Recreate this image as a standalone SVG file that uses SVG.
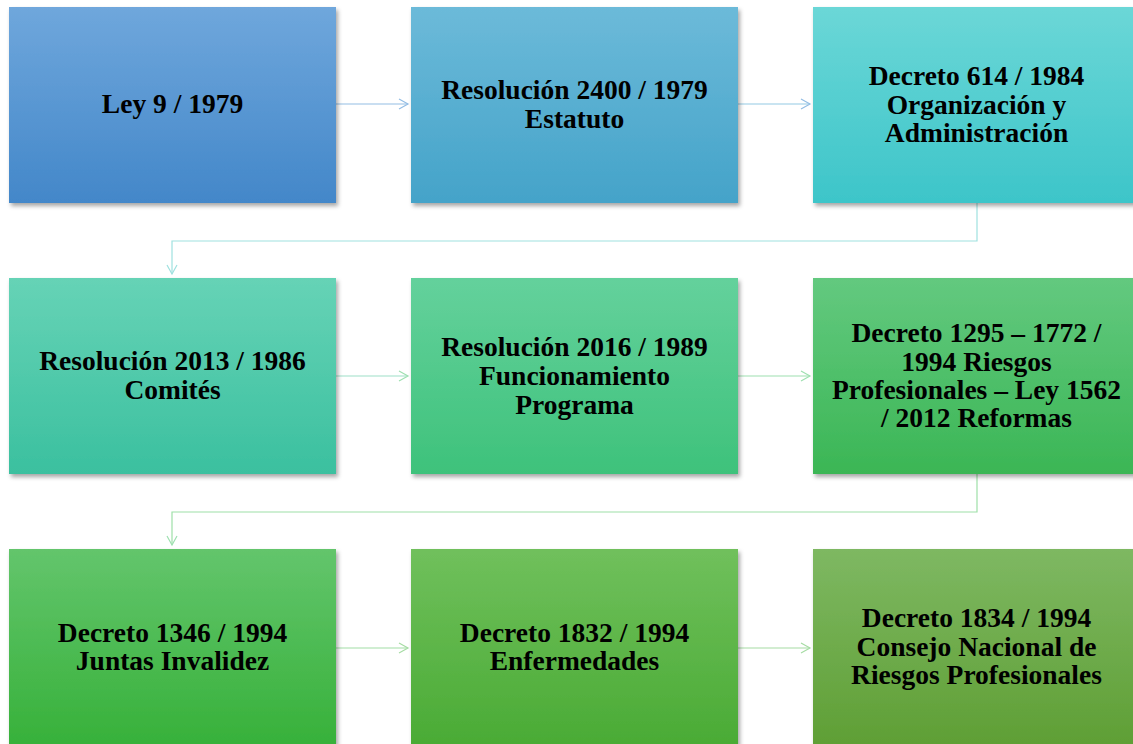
<svg xmlns="http://www.w3.org/2000/svg" width="1133" height="744" viewBox="0 0 1133 744">
<defs>
<filter id="sh" x="-5%" y="-5%" width="115%" height="115%">
<feDropShadow dx="2" dy="3" stdDeviation="2" flood-color="#000" flood-opacity="0.35"/>
</filter>
<linearGradient id="g1" x1="0" y1="0" x2="0" y2="1"><stop offset="0" stop-color="#6fa7dc"/><stop offset="1" stop-color="#4387c9"/></linearGradient>
<linearGradient id="g2" x1="0" y1="0" x2="0" y2="1"><stop offset="0" stop-color="#6cbad9"/><stop offset="1" stop-color="#44a3c9"/></linearGradient>
<linearGradient id="g3" x1="0" y1="0" x2="0" y2="1"><stop offset="0" stop-color="#6bd7d7"/><stop offset="1" stop-color="#3dc5c9"/></linearGradient>
<linearGradient id="g4" x1="0" y1="0" x2="0" y2="1"><stop offset="0" stop-color="#66d3b6"/><stop offset="1" stop-color="#3bc09f"/></linearGradient>
<linearGradient id="g5" x1="0" y1="0" x2="0" y2="1"><stop offset="0" stop-color="#64d19c"/><stop offset="1" stop-color="#3ec27b"/></linearGradient>
<linearGradient id="g6" x1="0" y1="0" x2="0" y2="1"><stop offset="0" stop-color="#63c97f"/><stop offset="1" stop-color="#3bb655"/></linearGradient>
<linearGradient id="g7" x1="0" y1="0" x2="0" y2="1"><stop offset="0" stop-color="#63c56c"/><stop offset="1" stop-color="#37b13a"/></linearGradient>
<linearGradient id="g8" x1="0" y1="0" x2="0" y2="1"><stop offset="0" stop-color="#70c05c"/><stop offset="1" stop-color="#4aab35"/></linearGradient>
<linearGradient id="g9" x1="0" y1="0" x2="0" y2="1"><stop offset="0" stop-color="#7eb862"/><stop offset="1" stop-color="#5f9f35"/></linearGradient>
<marker id="ab" markerWidth="12" markerHeight="12" refX="10" refY="6" orient="auto" markerUnits="userSpaceOnUse"><path d="M1,1 L10,6 L1,11" fill="none" stroke="#93bde4" stroke-width="1.2"/></marker>
<marker id="at" markerWidth="12" markerHeight="12" refX="10" refY="6" orient="auto" markerUnits="userSpaceOnUse"><path d="M1,1 L10,6 L1,11" fill="none" stroke="#9fe1df" stroke-width="1.2"/></marker>
<marker id="ag" markerWidth="12" markerHeight="12" refX="10" refY="6" orient="auto" markerUnits="userSpaceOnUse"><path d="M1,1 L10,6 L1,11" fill="none" stroke="#9ee0b0" stroke-width="1.2"/></marker>
<marker id="al" markerWidth="12" markerHeight="12" refX="10" refY="6" orient="auto" markerUnits="userSpaceOnUse"><path d="M1,1 L10,6 L1,11" fill="none" stroke="#a6dca4" stroke-width="1.2"/></marker>
</defs>
<style>
.box{filter:url(#sh);}
.t{font-family:"Liberation Serif","Times New Roman",serif;font-weight:bold;font-size:27.5px;fill:#000;text-anchor:middle;}
.c{fill:none;stroke-width:1.2;}
</style>
<rect width="1133" height="744" fill="#fff"/>
<g id="connectors">
<path class="c" d="M336,104 H408" stroke="#93bde4" marker-end="url(#ab)"/>
<path class="c" d="M738,104 H810" stroke="#93c9e4" marker-end="url(#ab)"/>
<path class="c" d="M977,203 V241 H172 V274" stroke="#9fe1df" marker-end="url(#at)"/>
<path class="c" d="M336,376 H408" stroke="#9ee0c8" marker-end="url(#ag)"/>
<path class="c" d="M738,376 H810" stroke="#9ee0b0" marker-end="url(#ag)"/>
<path class="c" d="M977,474 V512 H172 V545" stroke="#9ee0a8" marker-end="url(#ag)"/>
<path class="c" d="M336,648 H408" stroke="#a2dea6" marker-end="url(#al)"/>
<path class="c" d="M738,648 H810" stroke="#a6dca4" marker-end="url(#al)"/>
</g>
<g id="n1"><rect class="box" x="9" y="7" width="327" height="196" fill="url(#g1)"/><text class="t" x="172.5" y="113">Ley 9 / 1979</text></g>
<g id="n2"><rect class="box" x="411" y="7" width="327" height="196" fill="url(#g2)"/><text class="t" x="574.5" y="99">Resolución 2400 / 1979</text><text class="t" x="574.5" y="128">Estatuto</text></g>
<g id="n3"><rect class="box" x="813" y="7" width="327" height="196" fill="url(#g3)"/><text class="t" x="976.5" y="85">Decreto 614 / 1984</text><text class="t" x="976.5" y="113.5">Organización y</text><text class="t" x="976.5" y="142">Administración</text></g>
<g id="n4"><rect class="box" x="9" y="278" width="327" height="196" fill="url(#g4)"/><text class="t" x="172.5" y="370">Resolución 2013 / 1986</text><text class="t" x="172.5" y="399">Comités</text></g>
<g id="n5"><rect class="box" x="411" y="278" width="327" height="196" fill="url(#g5)"/><text class="t" x="574.5" y="356">Resolución 2016 / 1989</text><text class="t" x="574.5" y="385">Funcionamiento</text><text class="t" x="574.5" y="414">Programa</text></g>
<g id="n6"><rect class="box" x="813" y="278" width="327" height="196" fill="url(#g6)"/><text class="t" x="976.5" y="342">Decreto 1295 – 1772 /</text><text class="t" x="976.5" y="371">1994 Riesgos</text><text class="t" x="976.5" y="399">Profesionales – Ley 1562</text><text class="t" x="976.5" y="427">/ 2012 Reformas</text></g>
<g id="n7"><rect class="box" x="9" y="549" width="327" height="196" fill="url(#g7)"/><text class="t" x="172.5" y="642">Decreto 1346 / 1994</text><text class="t" x="172.5" y="670">Juntas Invalidez</text></g>
<g id="n8"><rect class="box" x="411" y="549" width="327" height="196" fill="url(#g8)"/><text class="t" x="574.5" y="642">Decreto 1832 / 1994</text><text class="t" x="574.5" y="670">Enfermedades</text></g>
<g id="n9"><rect class="box" x="813" y="549" width="327" height="196" fill="url(#g9)"/><text class="t" x="976.5" y="627">Decreto 1834 / 1994</text><text class="t" x="976.5" y="656">Consejo Nacional de</text><text class="t" x="976.5" y="684">Riesgos Profesionales</text></g>
</svg>
